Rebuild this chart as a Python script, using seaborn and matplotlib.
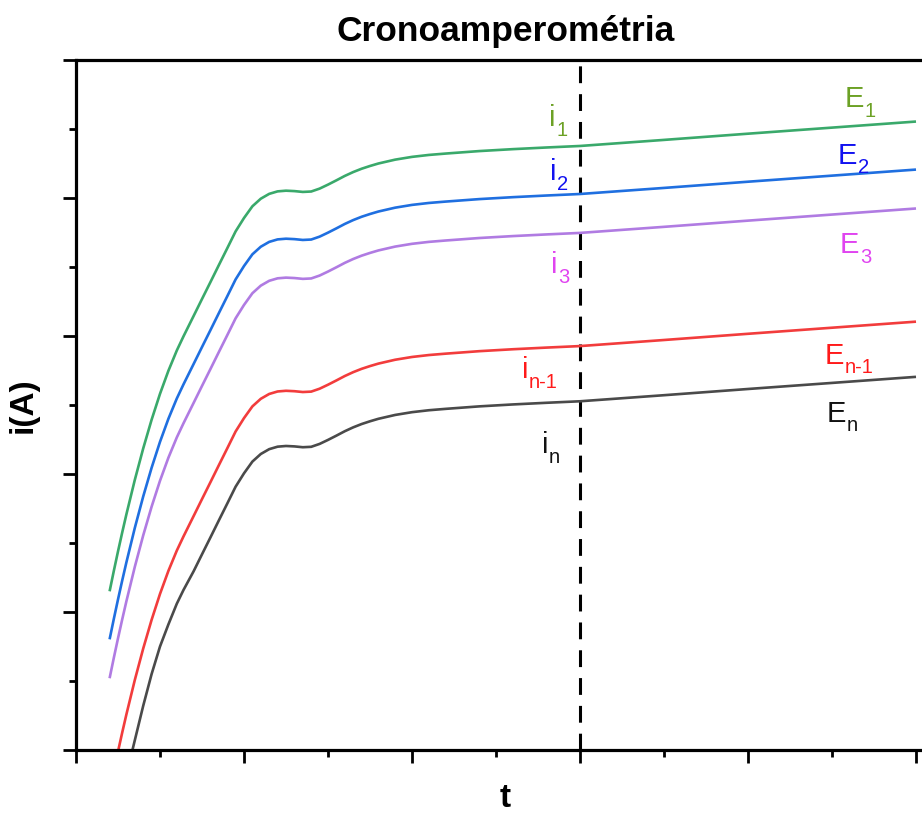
import numpy as np
import pandas as pd
import matplotlib
matplotlib.use("Agg")
import matplotlib.pyplot as plt
import seaborn as sns

# ---- data (t in arbitrary units 0-50, i in arbitrary units 0-50) ----
t = [2.0, 2.25, 2.5, 2.75, 3.0, 3.5, 4.0, 4.5, 5.0, 5.5, 6.0, 6.4, 7.0, 7.5, 8.0,
     8.5, 9.0, 9.5, 10.0, 10.5, 11.0, 11.5, 12.0, 12.5, 13.0, 13.5, 14.0, 14.5,
     15.0, 15.5, 16.0, 16.5, 17.0, 17.5, 18.0, 19.0, 20.0, 21.0, 22.0, 24.0,
     26.0, 28.0, 30.0, 35.0, 40.0, 45.0, 50.0]

i_E1 = [11.5, 12.97, 14.39, 15.76, 17.08, 19.57, 21.85, 23.93, 25.81, 27.48, 28.95,
        29.98, 31.45, 32.68, 33.9, 35.13, 36.35, 37.58, 38.55, 39.4, 39.95, 40.3,
        40.48, 40.53, 40.5, 40.44, 40.47, 40.68, 40.97, 41.28, 41.6, 41.88, 42.12,
        42.32, 42.5, 42.78, 42.98, 43.12, 43.22, 43.4, 43.54, 43.66, 43.77, 44.21,
        44.66, 45.1, 45.54]
i_E2 = [8.02, 9.49, 10.91, 12.28, 13.6, 16.09, 18.37, 20.45, 22.33, 24.0, 25.47,
        26.5, 27.97, 29.2, 30.42, 31.65, 32.87, 34.1, 35.07, 35.92, 36.47, 36.82,
        37.0, 37.05, 37.02, 36.96, 36.99, 37.2, 37.49, 37.8, 38.12, 38.4, 38.64,
        38.84, 39.02, 39.3, 39.5, 39.64, 39.74, 39.92, 40.06, 40.18, 40.29, 40.73,
        41.18, 41.62, 42.06]
i_E3 = [5.2, 6.67, 8.09, 9.46, 10.78, 13.27, 15.55, 17.63, 19.51, 21.18, 22.65,
        23.68, 25.15, 26.38, 27.6, 28.83, 30.05, 31.28, 32.25, 33.1, 33.65, 34.0,
        34.18, 34.23, 34.2, 34.14, 34.17, 34.38, 34.67, 34.98, 35.3, 35.58, 35.82,
        36.02, 36.2, 36.48, 36.68, 36.82, 36.92, 37.1, 37.24, 37.36, 37.47, 37.91,
        38.36, 38.8, 39.24]
i_En1 = [-3.0, -1.53, -0.11, 1.26, 2.58, 5.07, 7.35, 9.43, 11.31, 12.98, 14.45,
         15.48, 16.95, 18.18, 19.4, 20.63, 21.85, 23.08, 24.05, 24.9, 25.45, 25.8,
         25.98, 26.03, 26.0, 25.94, 25.97, 26.18, 26.47, 26.78, 27.1, 27.38, 27.62,
         27.82, 28.0, 28.28, 28.48, 28.62, 28.72, 28.9, 29.04, 29.16, 29.27, 29.71,
         30.16, 30.6, 31.04]
i_En = [-7.0, -5.53, -4.11, -2.9, -1.8, 0.7, 3.2, 5.5, 7.5, 9.1, 10.6, 11.6, 12.95,
        14.18, 15.4, 16.63, 17.85, 19.08, 20.05, 20.9, 21.45, 21.8, 21.98, 22.03,
        22.0, 21.94, 21.97, 22.18, 22.47, 22.78, 23.1, 23.38, 23.62, 23.82, 24.0,
        24.28, 24.48, 24.62, 24.72, 24.9, 25.04, 25.16, 25.27, 25.71, 26.16, 26.6,
        27.04]

series = ["E1", "E2", "E3", "En-1", "En"]
line_colors = ["#3aa96b", "#1f6fe0", "#b07be2", "#f23c3c", "#4a4a4a"]
t_step = 30.0

# labels: (base, sub, color, x, y)
E_labels = [("E", "1", "#6ca125", 45.75, 46.6), ("E", "2", "#1212f0", 45.36, 42.5),
            ("E", "3", "#e044f0", 45.48, 36.0), ("E", "n-1", "#ff1a1a", 44.58, 28.0),
            ("E", "n", "#111111", 44.68, 23.8)]
i_labels = [("i", "1", "#6ca125", 28.17, 45.2), ("i", "2", "#1212f0", 28.2, 41.3),
            ("i", "3", "#e044f0", 28.3, 34.55), ("i", "n-1", "#ff1a1a", 26.53, 26.95),
            ("i", "n", "#111111", 27.72, 21.5)]

# ---- build long table ----
values = [i_E1, i_E2, i_E3, i_En1, i_En]
df = pd.concat([pd.DataFrame({"t": t, "i": v, "serie": s}) for s, v in zip(series, values)],
               ignore_index=True)

sns.set_theme(style="ticks")
plt.rcParams["font.family"] = ["Liberation Sans", "DejaVu Sans"]
plt.rcParams["text.color"] = "black"
plt.rcParams["axes.labelcolor"] = "black"
plt.rcParams["axes.titlecolor"] = "black"

fig = plt.figure(figsize=(9.22, 8.17), dpi=100)
ax = fig.add_axes([76 / 922, 1 - 750 / 817, 859 / 922, 690 / 817])

sns.lineplot(data=df, x="t", y="i", hue="serie", palette=dict(zip(series, line_colors)),
             estimator=None, sort=False, legend=False, linewidth=1.9, ax=ax,
             solid_capstyle="butt")

ax.axvline(t_step, color="black", linewidth=2.2, linestyle=(0, (5.5, 3.6)), zorder=1)

ax.set_xlim(0, 859 / 16.8)
ax.set_ylim(0, 50)
ax.set_xticks(np.arange(0, 51, 10))
ax.set_xticks(np.arange(5, 51, 10), minor=True)
ax.set_yticks(np.arange(0, 51, 10))
ax.set_yticks(np.arange(5, 51, 10), minor=True)
ax.set_xticklabels([])
ax.set_yticklabels([])
ax.tick_params(which="major", direction="out", length=9.5, width=2.0, color="black",
               top=False, right=False)
ax.tick_params(which="minor", direction="out", length=5, width=2.0, color="black",
               top=False, right=False)
for sp in ax.spines.values():
    sp.set_linewidth(2.3)
    sp.set_color("black")

ax.set_title("Cronoamperométria", fontsize=25.5, fontweight="bold", pad=13.5)
ax.set_xlabel("t", fontsize=24, fontweight="bold", labelpad=10.5)
ax.set_ylabel("i(A)", fontsize=24, fontweight="bold", labelpad=14)

adv = {"E": 0.667, "i": 0.222}
base_size = 21
sub_size = 14.5
for base, sub, col, x, y in E_labels + i_labels:
    ax.text(x, y, base, color=col, fontsize=base_size, ha="left", va="baseline")
    ax.annotate(sub, xy=(x, y), xytext=(adv[base] * base_size + 0.3, -7),
                textcoords="offset points", color=col, fontsize=sub_size,
                ha="left", va="baseline")

fig.savefig("out.png", dpi=100)
